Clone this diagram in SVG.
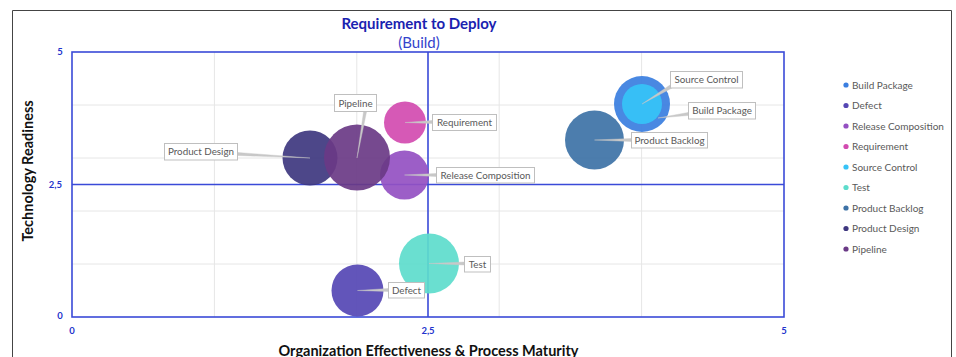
<svg xmlns="http://www.w3.org/2000/svg" width="956" height="357" viewBox="0 0 956 357">
<style>
.t{font-family:Lato,"Liberation Sans",sans-serif}
.grid{stroke:#e6e6e6;stroke-width:1;fill:none}
.axis{stroke:#3a4ad8;stroke-width:1.6;fill:none}
.tick{font-family:Lato,"Liberation Sans",sans-serif;font-size:9.5px;font-weight:bold;fill:#2233cc}
.bub{fill-opacity:0.92}
.box{fill:#ffffff;stroke:#bfbfbf;stroke-width:1}
.wedge{fill:#c8c8c8;stroke:#c8c8c8;stroke-width:0.4}
.lbl{font-family:Lato,"Liberation Sans",sans-serif;font-size:9.8px;fill:#595959;text-anchor:middle}
.leg{font-family:Lato,"Liberation Sans",sans-serif;font-size:10px;fill:#595959}
</style>
<rect x="0" y="0" width="956" height="357" fill="#ffffff"/>
<path d="M12.5 357 V10.5 H951.5 V357" fill="none" stroke="#444" stroke-width="1"/>
<text class="t" x="419" y="29" text-anchor="middle" font-size="15" font-weight="bold" fill="#1a22b0">Requirement to Deploy</text>
<text class="t" x="419" y="48" text-anchor="middle" font-size="15" fill="#3343cc">(Build)</text>
<g id="grid">
<path class="grid" d="M214.4 52V317M356.8 52V317M499.2 52V317M641.6 52V317M72 264H784M72 211H784M72 158H784M72 105H784"/>
</g>
<g id="axes">
<rect class="axis" x="72" y="52" width="712" height="265"/>
<path class="axis" d="M428 52V317M72 184.5H784"/>
<text class="tick" x="60" y="55" text-anchor="middle">5</text>
<text class="tick" x="62" y="187.5" text-anchor="end">2,5</text>
<text class="tick" x="60" y="319" text-anchor="middle">0</text>
<text class="tick" x="72" y="334" text-anchor="middle">0</text>
<text class="tick" x="428" y="334" text-anchor="middle">2,5</text>
<text class="tick" x="784" y="334" text-anchor="middle">5</text>
<text class="t" transform="translate(33 171) rotate(-90)" text-anchor="middle" font-size="14.5" font-weight="bold" fill="#111">Technology Readiness</text>
<text class="t" x="428.5" y="356" text-anchor="middle" font-size="14.5" font-weight="bold" fill="#111">Organization Effectiveness &amp; Process Maturity</text>
</g>
<g id="bubbles">
<circle id="b-build" class="bub" cx="642" cy="104" r="28" fill="#3a7ee0"/>
<circle id="b-defect" class="bub" cx="357.5" cy="290.5" r="26" fill="#5547b4"/>
<circle id="b-release" class="bub" cx="404.5" cy="175" r="24.5" fill="#9450c2"/>
<circle id="b-req" class="bub" cx="405" cy="122.5" r="21" fill="#d24bb0"/>
<circle id="b-source" class="bub" cx="642" cy="104" r="20" fill="#36c3f7"/>
<circle id="b-test" class="bub" cx="429" cy="263.5" r="30" fill="#5ddccc"/>
<circle id="b-backlog" class="bub" cx="594.5" cy="140" r="29.5" fill="#3d72a6"/>
<circle id="b-design" class="bub" cx="310" cy="158" r="27.5" fill="#3e377f"/>
<circle id="b-pipeline" class="bub" cx="357" cy="157.5" r="33" fill="#6a3a86"/>
</g>
<g id="connectors">
<polygon class="wedge" points="238,152.5 238,155.5 310,158"/>
<polygon class="wedge" points="363.5,112 366.5,112 357,158"/>
<polygon class="wedge" points="432,120.5 432,123.5 405,122.5"/>
<polygon class="wedge" points="436,173.5 436,176.5 404.5,175"/>
<polygon class="wedge" points="464,262 464,265 429,263.5"/>
<polygon class="wedge" points="388,288.5 388,291.5 357.5,290.5"/>
<polygon class="wedge" points="670,85 672,88 642,104"/>
<polygon class="wedge" points="688,112.5 688,115.5 658,118"/>
<polygon class="wedge" points="631,138.5 631,141.5 594.5,140"/>
</g>
<g id="n-design"><rect class="box" x="164.5" y="143.5" width="73" height="16.5"/><text class="lbl" x="201" y="155.3">Product Design</text></g>
<g id="n-pipeline"><rect class="box" x="334.5" y="94.5" width="42" height="17"/><text class="lbl" x="355.5" y="106.8">Pipeline</text></g>
<g id="n-req"><rect class="box" x="432.5" y="114.5" width="64" height="16"/><text class="lbl" x="464.5" y="126.3">Requirement</text></g>
<g id="n-release"><rect class="box" x="436.5" y="167.5" width="98" height="15.5"/><text class="lbl" x="485.5" y="178.8">Release Composition</text></g>
<g id="n-test"><rect class="box" x="464.5" y="256.5" width="26" height="15.5"/><text class="lbl" x="477.5" y="267.8">Test</text></g>
<g id="n-defect"><rect class="box" x="388.5" y="282.5" width="36" height="15.5"/><text class="lbl" x="406.5" y="293.8">Defect</text></g>
<g id="n-source"><rect class="box" x="670.5" y="71.5" width="72" height="16.5"/><text class="lbl" x="706.5" y="83.3">Source Control</text></g>
<g id="n-buildpkg"><rect class="box" x="688.5" y="102.5" width="67" height="16.5"/><text class="lbl" x="722" y="114.3">Build Package</text></g>
<g id="n-backlog"><rect class="box" x="631.5" y="132.5" width="76" height="15.5"/><text class="lbl" x="669.5" y="143.8">Product Backlog</text></g>
<g id="legend">
<circle cx="846" cy="85" r="2.6" fill="#3a7ee0"/><text class="leg" x="852" y="88.5">Build Package</text>
<circle cx="846" cy="105.5" r="2.6" fill="#5547b4"/><text class="leg" x="852" y="109">Defect</text>
<circle cx="846" cy="126" r="2.6" fill="#9450c2"/><text class="leg" x="852" y="129.5">Release Composition</text>
<circle cx="846" cy="146.5" r="2.6" fill="#d24bb0"/><text class="leg" x="852" y="150">Requirement</text>
<circle cx="846" cy="167" r="2.6" fill="#36c3f7"/><text class="leg" x="852" y="170.5">Source Control</text>
<circle cx="846" cy="187.5" r="2.6" fill="#5ddccc"/><text class="leg" x="852" y="191">Test</text>
<circle cx="846" cy="208" r="2.6" fill="#3d72a6"/><text class="leg" x="852" y="211.5">Product Backlog</text>
<circle cx="846" cy="228.5" r="2.6" fill="#3e377f"/><text class="leg" x="852" y="232">Product Design</text>
<circle cx="846" cy="249" r="2.6" fill="#6a3a86"/><text class="leg" x="852" y="252.5">Pipeline</text>
</g>
</svg>
